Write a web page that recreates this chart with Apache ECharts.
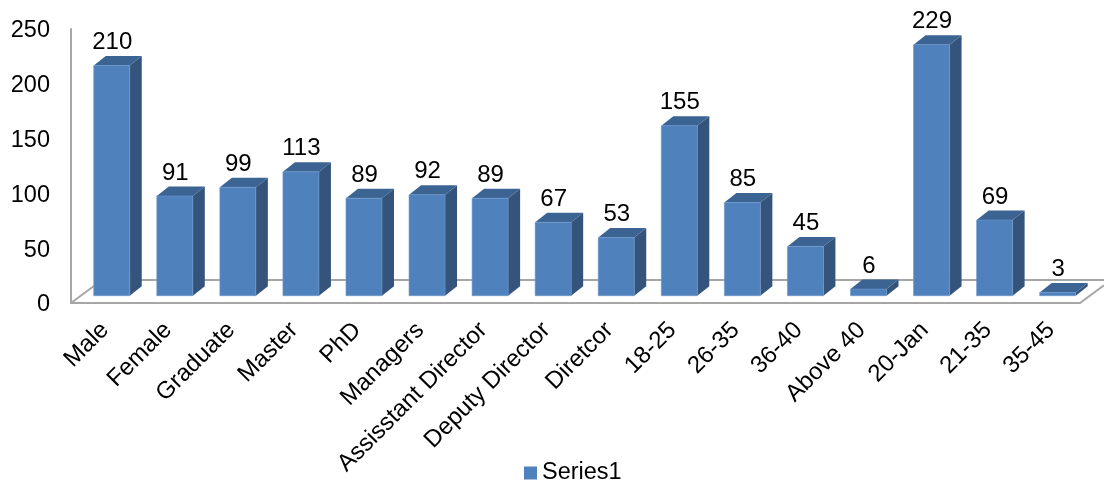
<!DOCTYPE html>
<html>
<head>
<meta charset="utf-8">
<style>html,body{margin:0;padding:0;background:#fff}#c{width:1104px;height:483px}</style>
<script src="https://cdn.jsdelivr.net/npm/echarts@6/dist/echarts.min.js"></script>
</head>
<body>
<div id="c"></div>
<script>
const categories = ['Male','Female','Graduate','Master','PhD','Managers','Assisstant Director','Deputy Director','Diretcor','18-25','26-35','36-40','Above 40','20-Jan','21-35','35-45'];
const values = [210,91,99,113,89,92,89,67,53,155,85,45,6,229,69,3];
const yTicks = [0,50,100,150,200,250];

const FONT = '"Liberation Sans", Arial, sans-serif';
const FRONT = '#4f81bd', SIDE = '#34547c', TOP = '#3b6493', EDGE = '#6d97cb', AXIS = '#a6a6a6';
const BAR_W = 36, DEPTH_X = 12, DEPTH_Y = 9.5;
// Bars stand part way back on the floor, behind the front axis line.
const INSET_X = 9.2, INSET_Y = 7.3;
const FLOOR_X = 31, FLOOR_Y = 23;

function drawFloor(params, api) {
  const g = params.coordSys;
  const x0 = g.x, y0 = g.y + g.height, x1 = g.x + g.width;
  const right = api.getWidth();
  const line = (a, b, c, d) => ({
    type: 'line', shape: {x1: a, y1: b, x2: c, y2: d},
    style: {stroke: AXIS, lineWidth: 2}
  });
  return {type: 'group', children: [
    line(x0, y0, x0 + FLOOR_X, y0 - FLOOR_Y),
    line(x0 + FLOOR_X, y0 - FLOOR_Y, right, y0 - FLOOR_Y),
    line(x1, y0, right, y0 - (right - x1) * FLOOR_Y / FLOOR_X)
  ]};
}

function drawBar(params, api) {
  const v = api.value(1);
  const top = api.coord([api.value(0), v]);
  const base = api.coord([api.value(0), 0]);
  const l = top[0] + INSET_X - BAR_W / 2, r = l + BAR_W;
  const t = top[1] - INSET_Y, b = base[1] - INSET_Y;
  return {type: 'group', children: [
    {type: 'polygon', shape: {points: [[r, t], [r + DEPTH_X, t - DEPTH_Y], [r + DEPTH_X, b - DEPTH_Y], [r, b]]},
      style: {fill: SIDE}},
    {type: 'polygon', shape: {points: [[l, t], [l + DEPTH_X, t - DEPTH_Y], [r + DEPTH_X, t - DEPTH_Y], [r, t]]},
      style: {fill: TOP}},
    {type: 'rect', shape: {x: l, y: t, width: BAR_W, height: b - t},
      style: {fill: FRONT, stroke: EDGE, lineWidth: 0.6}},
    {type: 'text', x: l + BAR_W / 2 + 0.5, y: t - 23,
      style: {text: String(v), font: '24px ' + FONT, fill: '#000', align: 'center', verticalAlign: 'middle'}}
  ]};
}

const chart = echarts.init(document.getElementById('c'), null, {renderer: 'canvas'});
chart.setOption({
  animation: false,
  backgroundColor: '#fff',
  grid: {left: 71, top: 29, width: 1009, height: 274, containLabel: false},
  legend: {
    data: ['Series1'], left: 524, top: 461, padding: 0, icon: 'rect', itemWidth: 13, itemHeight: 13, itemGap: 5,
    textStyle: {fontFamily: FONT, fontSize: 23.5, color: '#000'}
  },
  xAxis: {
    type: 'category', data: categories,
    axisLine: {lineStyle: {color: AXIS, width: 2}},
    axisTick: {show: false},
    axisLabel: {
      interval: 0, rotate: 45, margin: 21, hideOverlap: false,
      formatter: '{t|{value}}',
      // The taller line box drops each label slightly below its anchor.
      rich: {t: {fontFamily: FONT, fontSize: 24, color: '#000', height: 24, lineHeight: 31, verticalAlign: 'bottom'}}
    }
  },
  yAxis: {
    type: 'value', min: yTicks[0], max: yTicks[yTicks.length - 1], interval: yTicks[1] - yTicks[0],
    axisLine: {show: true, lineStyle: {color: AXIS, width: 2}},
    axisTick: {show: false},
    splitLine: {show: false},
    axisLabel: {
      margin: 21,
      formatter: '{t|{value}}',
      rich: {t: {fontFamily: FONT, fontSize: 23.5, color: '#000', height: 24, lineHeight: 28, verticalAlign: 'bottom'}}
    }
  },
  series: [
    {type: 'custom', name: 'floor', renderItem: drawFloor, data: [[0, 0]], encode: {x: 0, y: 1}, clip: false, silent: true, z: 1},
    {type: 'custom', name: 'Series1', renderItem: drawBar, itemStyle: {color: FRONT},
      data: values.map((v, i) => [i, v]), encode: {x: 0, y: 1}, clip: false, z: 2}
  ]
});
</script>
</body>
</html>
